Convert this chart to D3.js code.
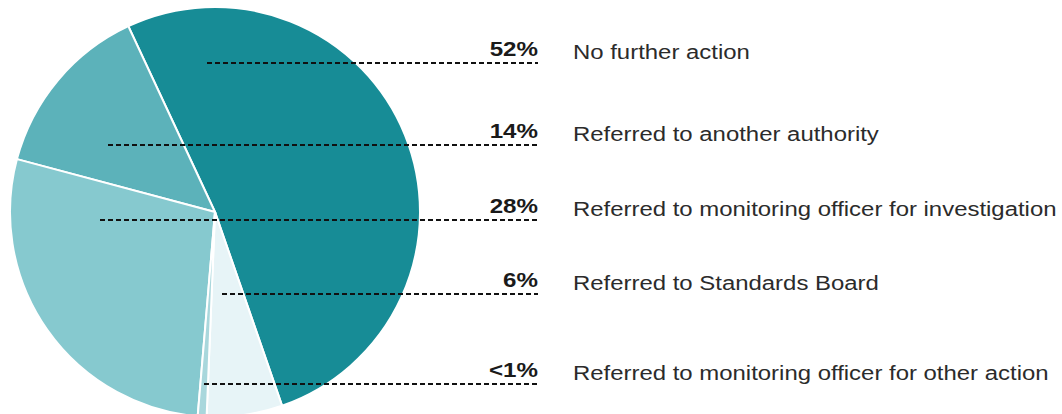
<!DOCTYPE html>
<html>
<head>
<meta charset="utf-8">
<script src="https://cdn.jsdelivr.net/npm/d3@7"></script>
<style>
  body { margin: 0; background: #fff; }
  svg { display: block; }
</style>
</head>
<body>
<div class="canvas"></div>
<script>
// chart data, in legend order
const categories = [
  'No further action',
  'Referred to another authority',
  'Referred to monitoring officer for investigation',
  'Referred to Standards Board',
  'Referred to monitoring officer for other action'
];
const values = [52, 14, 28, 6, 0.7];
const pctLabels = ['52%', '14%', '28%', '6%', '<1%'];
// order the slices run clockwise round the pie
const sliceOrder = [0, 4, 3, 1, 2];
const colours = ['#178c96', '#5cb2ba', '#86c9cf', '#e7f4f7', '#a9d7dc'];

// layout
const width = 1062, height = 414;
const cx = 215, cy = 212, radius = 205;
const rowY = [63, 145, 220, 294, 384];        // y of each dashed leader
const leaderStart = [207, 108, 100, 222, 204]; // where each leader starts inside the pie
const leaderEnd = 538;
const textX = 573;

const svg = d3.select('.canvas')
  .append('svg')
    .attr('width', width)
    .attr('height', height);

const rows = categories.map((c, i) => ({ name: c, value: values[i], pct: pctLabels[i], i }));

const pie = d3.pie()
  .value(d => d.value)
  .sort((a, b) => sliceOrder[a.i] - sliceOrder[b.i])
  .startAngle(-25 * Math.PI / 180)
  .endAngle(335 * Math.PI / 180);

const arc = d3.arc().innerRadius(0).outerRadius(radius);

const graph = svg.append('g')
  .attr('transform', `translate(${cx}, ${cy})`);

graph.selectAll('path')
  .data(pie(rows))
  .enter()
  .append('path')
    .attr('d', arc)
    .attr('fill', d => colours[d.data.i])
    .attr('stroke', '#fff')
    .attr('stroke-width', 2);

// dashed leaders
svg.selectAll('line.leader')
  .data(rows)
  .enter()
  .append('line')
    .attr('class', 'leader')
    .attr('x1', d => leaderStart[d.i])
    .attr('x2', leaderEnd)
    .attr('y1', d => rowY[d.i])
    .attr('y2', d => rowY[d.i])
    .attr('stroke', '#111')
    .attr('stroke-width', 2)
    .attr('stroke-dasharray', '5,3');

// percent labels (text in the source is a little wide, so stretch it)
svg.selectAll('g.pct')
  .data(rows)
  .enter()
  .append('g')
    .attr('class', 'pct')
    .attr('transform', d => `translate(${leaderEnd}, ${rowY[d.i] - 7}) scale(1.15, 1)`)
  .append('text')
    .attr('text-anchor', 'end')
    .attr('font-family', 'Liberation Sans, Arial, sans-serif')
    .attr('font-weight', 'bold')
    .attr('font-size', 21)
    .attr('fill', '#1a1a1a')
    .text(d => d.pct);

svg.selectAll('g.cat')
  .data(rows)
  .enter()
  .append('g')
    .attr('class', 'cat')
    .attr('transform', d => `translate(${textX}, ${rowY[d.i] - 4}) scale(1.14, 1)`)
  .append('text')
    .attr('font-family', 'Liberation Sans, Arial, sans-serif')
    .attr('font-size', 21)
    .attr('fill', '#2b2b2b')
    .text(d => d.name);
</script>
</body>
</html>
